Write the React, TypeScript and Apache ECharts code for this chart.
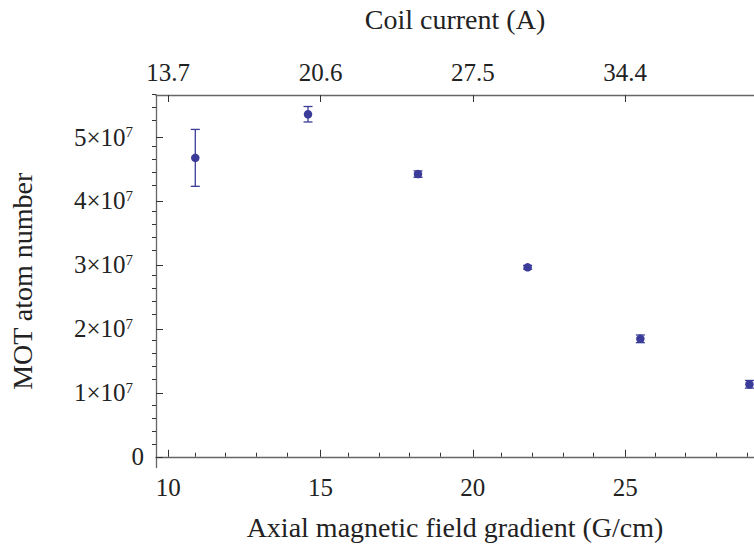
import React, { useEffect, useRef } from "react";
import * as echarts from "echarts";

// Axial magnetic field gradient (G/cm)
const gradient = [10.89, 14.59, 18.2, 21.8, 25.5, 29.08];
// MOT atom number
const atomNumber = [4.674e7, 5.356e7, 4.42e7, 2.963e7, 1.845e7, 1.134e7];
const atomError = [0.445e7, 0.121e7, 0.05e7, 0.03e7, 0.06e7, 0.06e7];

const bottomMajorTicks = [10, 15, 20, 25];
const bottomMinorTicks = [11, 12, 13, 14, 16, 17, 18, 19, 21, 22, 23, 24, 26, 27, 28, 29];
const topTickLabels = ["13.7", "20.6", "27.5", "34.4"];
const yMajorTicks = [0, 1e7, 2e7, 3e7, 4e7, 5e7];
const yMinorTicks = [
  0.2e7, 0.4e7, 0.6e7, 0.8e7, 1.2e7, 1.4e7, 1.6e7, 1.8e7, 2.2e7, 2.4e7, 2.6e7, 2.8e7,
  3.2e7, 3.4e7, 3.6e7, 3.8e7, 4.2e7, 4.4e7, 4.6e7, 4.8e7, 5.2e7, 5.4e7, 5.6e7,
];

const X_MIN = 9.6;
const X_MAX = 29.23;
const Y_MIN = -0.167e7;
const Y_MAX = 5.657e7;

const FONT = "'Liberation Serif', 'Times New Roman', serif";
const MARK = "#3b3c99";
const AXIS = "#666";
const TICK = "#333";
const TEXT = "#222";

export default function App() {
  const ref = useRef<HTMLDivElement>(null);

  useEffect(() => {
    if (!ref.current) return;
    const chart = echarts.init(ref.current, null, { renderer: "svg" });
    const gridBox = { left: 152, right: 0, top: 91, bottom: 89.5, containLabel: false };

    const option: any = {
      animation: false,
      backgroundColor: "#fff",
      textStyle: { fontFamily: FONT },
      grid: [{ ...gridBox }, { ...gridBox }],
      xAxis: [
        {
          type: "value",
          gridIndex: 0,
          position: "bottom",
          min: X_MIN,
          max: X_MAX,
          axisLine: { show: true, lineStyle: { color: AXIS, width: 1.3 } },
          axisTick: {
            show: true,
            inside: true,
            length: 7,
            customValues: bottomMajorTicks,
            lineStyle: { color: TICK, width: 1 },
          },
          axisLabel: {
            customValues: bottomMajorTicks,
            margin: 7,
            fontSize: 25,
            color: TEXT,
            fontFamily: FONT,
          },
          splitLine: { show: false },
          name: "Axial magnetic field gradient (G/cm)",
          nameLocation: "middle",
          nameGap: 46,
          nameTextStyle: { fontSize: 28, color: TEXT, fontFamily: FONT },
        },
        {
          type: "value",
          gridIndex: 0,
          position: "top",
          min: X_MIN,
          max: X_MAX,
          axisLine: { show: true, lineStyle: { color: AXIS, width: 1.3 } },
          axisTick: {
            show: true,
            inside: true,
            length: 7,
            customValues: bottomMajorTicks,
            lineStyle: { color: TICK, width: 1 },
          },
          axisLabel: {
            customValues: bottomMajorTicks,
            margin: 10,
            fontSize: 25,
            color: TEXT,
            fontFamily: FONT,
            formatter: (v: number) => {
              const i = bottomMajorTicks.findIndex((t) => Math.abs(t - v) < 1e-6);
              return i >= 0 ? topTickLabels[i] : "";
            },
          },
          splitLine: { show: false },
          name: "Coil current (A)",
          nameLocation: "middle",
          nameGap: 62,
          nameTextStyle: { fontSize: 28, color: TEXT, fontFamily: FONT },
        },
        {
          type: "value",
          gridIndex: 1,
          position: "bottom",
          min: X_MIN,
          max: X_MAX,
          axisLine: { show: false },
          axisTick: {
            show: true,
            inside: true,
            length: 4,
            customValues: bottomMinorTicks,
            lineStyle: { color: TICK, width: 1 },
          },
          axisLabel: { show: false },
          splitLine: { show: false },
        },
      ],
      yAxis: [
        {
          type: "value",
          gridIndex: 0,
          position: "left",
          min: Y_MIN,
          max: Y_MAX,
          axisLine: { show: true, lineStyle: { color: AXIS, width: 1.3 } },
          axisTick: {
            show: true,
            inside: true,
            length: 7,
            customValues: yMajorTicks,
            lineStyle: { color: TICK, width: 1 },
          },
          axisLabel: {
            customValues: yMajorTicks,
            margin: 12,
            color: TEXT,
            formatter: (v: number) => {
              if (Math.abs(v) < 1) return "{b|0}";
              return `{b|${Math.round(v / 1e7)}×10}{s|7}`;
            },
            rich: {
              b: { fontSize: 25, fontFamily: FONT, color: TEXT },
              s: { fontSize: 15, fontFamily: FONT, color: TEXT, padding: [0, 11, 10, 0] },
            },
          },
          splitLine: { show: false },
          name: "MOT atom number",
          nameLocation: "middle",
          nameRotate: 90,
          nameGap: 120,
          nameTextStyle: { fontSize: 28, color: TEXT, fontFamily: FONT },
        },
        {
          type: "value",
          gridIndex: 1,
          position: "left",
          min: Y_MIN,
          max: Y_MAX,
          axisLine: { show: false },
          axisTick: {
            show: true,
            inside: true,
            length: 4,
            customValues: yMinorTicks,
            lineStyle: { color: TICK, width: 1 },
          },
          axisLabel: { show: false },
          splitLine: { show: false },
        },
      ],
      series: [
        {
          type: "custom",
          xAxisIndex: 0,
          yAxisIndex: 0,
          clip: false,
          data: gradient.map((x, i) => [x, atomNumber[i] - atomError[i], atomNumber[i] + atomError[i]]),
          encode: { x: 0, y: [1, 2] },
          renderItem: (_params: any, api: any) => {
            const x = api.value(0);
            const pLo = api.coord([x, api.value(1)]);
            const pHi = api.coord([x, api.value(2)]);
            const w = 4.5;
            const style = { stroke: MARK, lineWidth: 1.3, fill: "none" };
            return {
              type: "group",
              children: [
                { type: "line", shape: { x1: pHi[0], y1: pHi[1], x2: pLo[0], y2: pLo[1] }, style },
                { type: "line", shape: { x1: pHi[0] - w, y1: pHi[1], x2: pHi[0] + w, y2: pHi[1] }, style },
                { type: "line", shape: { x1: pLo[0] - w, y1: pLo[1], x2: pLo[0] + w, y2: pLo[1] }, style },
              ],
            };
          },
          z: 2,
        },
        {
          type: "scatter",
          xAxisIndex: 0,
          yAxisIndex: 0,
          symbol: "circle",
          symbolSize: 8.5,
          itemStyle: { color: MARK, opacity: 1 },
          data: gradient.map((x, i) => [x, atomNumber[i]]),
          clip: false,
          z: 3,
        },
      ],
    };

    chart.setOption(option);
    return () => chart.dispose();
  }, []);

  return (
    <div
      ref={ref}
      style={{ position: "fixed", left: 0, top: 0, width: 754, height: 557, background: "#fff" }}
    />
  );
}
